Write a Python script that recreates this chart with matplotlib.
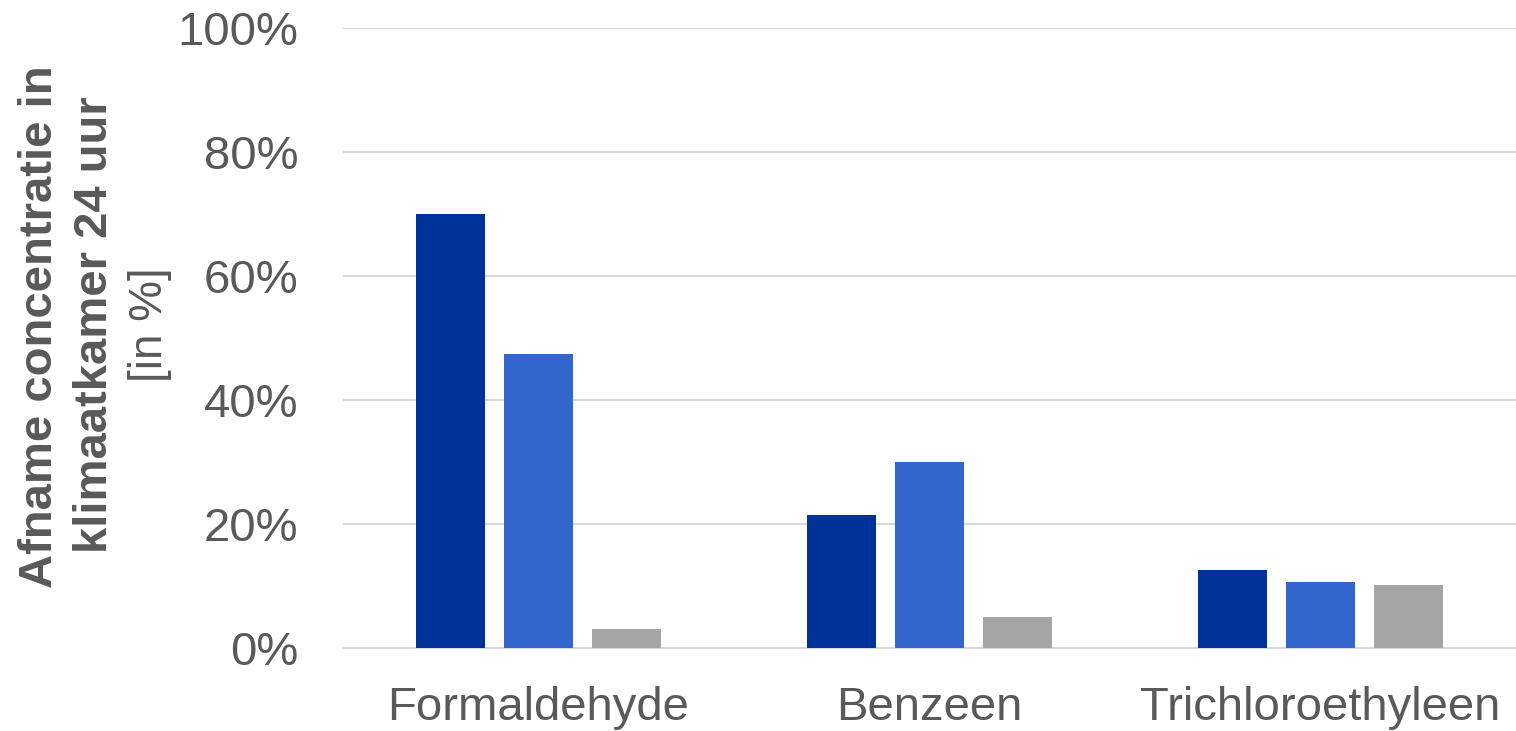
# staafdiagram: afname concentratie in klimaatkamer na 24 uur
import matplotlib.pyplot as plt
import numpy as np

# gegevens
stoffen = ["Formaldehyde", "Benzeen", "Trichloroethyleen"]
reeks1 = [70.0, 21.5, 12.6]
reeks2 = [47.4, 30.0, 10.6]
reeks3 = [3.1, 5.0, 10.2]
ytick_waarden = [0, 20, 40, 60, 80, 100]
ytick_labels = ["0%", "20%", "40%", "60%", "80%", "100%"]

kleuren = ["#003399", "#3366CC", "#A5A5A5"]
tekstkleur = "#595959"

plt.rcParams['font.family'] = ['Liberation Sans', 'DejaVu Sans']

fig = plt.figure(figsize=(15.16, 7.31), dpi=100)
ax = fig.add_axes([343 / 1516, 83 / 731, 1173 / 1516, 620 / 731])

x = np.arange(len(stoffen))
breedte = 0.176
stap = 0.225
for i, reeks in enumerate([reeks1, reeks2, reeks3]):
    ax.bar(x + (i - 1) * stap, reeks, breedte, color=kleuren[i], zorder=3)

ax.set_xlim(-0.5, 2.5)
ax.set_ylim(0, 100)
ax.set_yticks(ytick_waarden)
ax.set_yticklabels(ytick_labels)
ax.set_xticks(x)
ax.set_xticklabels(stoffen)
ax.tick_params(axis='both', length=0, labelsize=34, labelcolor=tekstkleur)
ax.tick_params(axis='y', pad=32)
ax.tick_params(axis='x', pad=27)
ax.grid(axis='y', color="#D9D9D9", linewidth=1.5, zorder=0)
for s in ["top", "right", "left"]:
    ax.spines[s].set_visible(False)
ax.spines["bottom"].set_color("#D9D9D9")
ax.spines["bottom"].set_linewidth(1.5)

# y-as titel in drie regels (anker = basislijn, midden van de tekst)
fig.text(52 / 1516, 1 - 327 / 731, "Afname concentratie in", rotation=90,
         rotation_mode='anchor', ha='center', va='baseline',
         fontsize=34, fontweight='bold', color=tekstkleur)
fig.text(107 / 1516, 1 - 325 / 731, "klimaatkamer 24 uur", rotation=90,
         rotation_mode='anchor', ha='center', va='baseline',
         fontsize=34, fontweight='bold', color=tekstkleur)
fig.text(162 / 1516, 1 - 325 / 731, "[in %]", rotation=90,
         rotation_mode='anchor', ha='center', va='baseline',
         fontsize=33, color=tekstkleur)

fig.savefig("out.png", dpi=100)
